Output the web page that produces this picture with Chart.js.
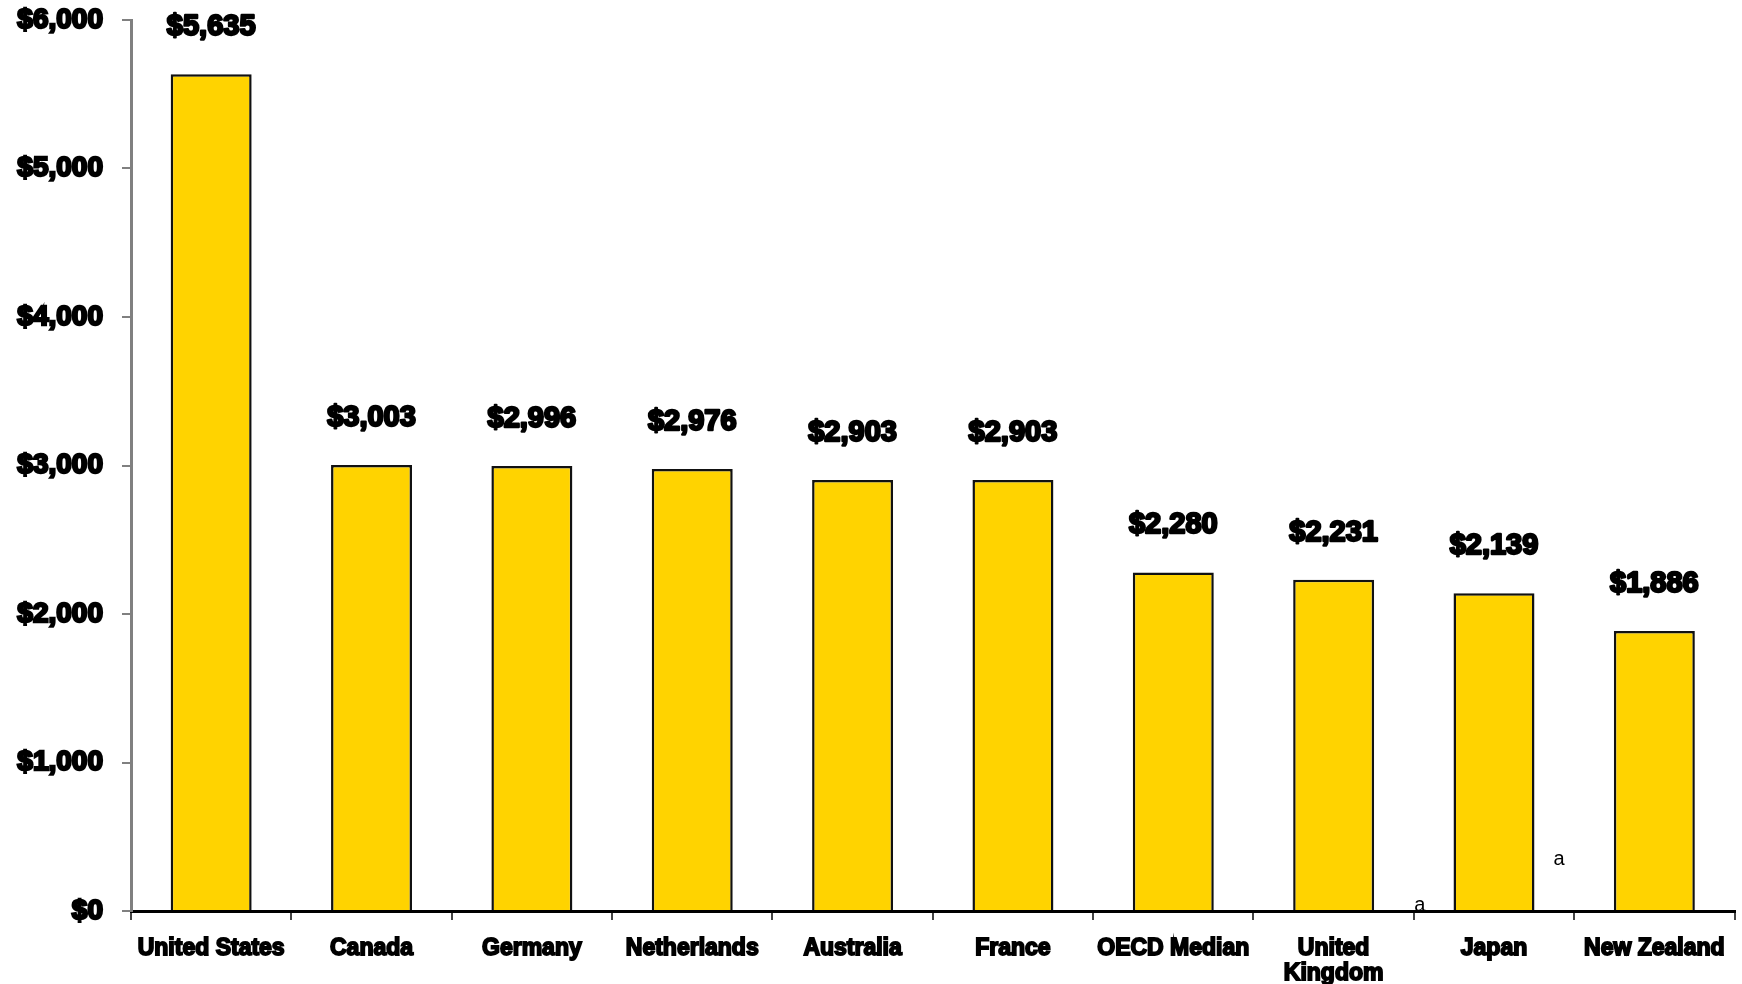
<!DOCTYPE html>
<html>
<head>
<meta charset="utf-8">
<style>
html,body{margin:0;padding:0;background:#fff;}
#wrap{width:1742px;height:984px;position:relative;}
</style>
<script src="https://cdn.jsdelivr.net/npm/chart.js@4/dist/chart.umd.min.js"></script>
</head>
<body>
<div id="wrap"><canvas id="c" width="1742" height="984"></canvas></div>
<script>
const categories = ["United States", "Canada", "Germany", "Netherlands", "Australia", "France", "OECD Median", ["United", "Kingdom"], "Japan", "New Zealand"];
const spending = [5635, 3003, 2996, 2976, 2903, 2903, 2280, 2231, 2139, 1886];
const yTicks = [0, 1000, 2000, 3000, 4000, 5000, 6000];
const footnotes = [
  {text: "a", between: 7.5, value: 0, dx: 6, dy: -6},
  {text: "a", between: 8.5, value: 350, dx: -15, dy: 0}
];

function fmt(v){ return "$" + v.toLocaleString("en-US"); }

const labelPlugin = {
  id: "valueLabels",
  afterDatasetsDraw(chart){
    const ctx = chart.ctx;
    const meta = chart.getDatasetMeta(0);
    ctx.save();
    ctx.font = "bold 29px 'Liberation Sans', Arial, sans-serif";
    ctx.textAlign = "center";
    ctx.textBaseline = "middle";
    ctx.fillStyle = "#000";
    ctx.strokeStyle = "#000";
    ctx.lineWidth = 2.4;
    ctx.lineJoin = "round";
    meta.data.forEach((bar, i) => {
      const t = fmt(spending[i]);
      ctx.strokeText(t, bar.x, bar.y - 47);
      ctx.fillText(t, bar.x, bar.y - 47);
    });
    ctx.font = "20px 'Liberation Sans', Arial, sans-serif";
    const xs = chart.scales.x, ys = chart.scales.y;
    footnotes.forEach(f => {
      const x = xs.getPixelForValue(f.between) + f.dx;
      const y = ys.getPixelForValue(f.value) + f.dy;
      ctx.fillText(f.text, x, y);
    });
    ctx.restore();
  }
};

new Chart(document.getElementById("c"), {
  type: "bar",
  data: {
    labels: categories,
    datasets: [{
      data: spending,
      backgroundColor: "#FFD300",
      borderColor: "#111",
      borderWidth: 2.5,
      borderSkipped: "bottom",
      barPercentage: 0.505,
      categoryPercentage: 1.0
    }]
  },
  options: {
    responsive: false,
    animation: false,
    devicePixelRatio: 1,
    layout: { padding: { top: 20, right: 7, left: 0, bottom: 0 } },
    plugins: { legend: { display: false }, tooltip: { enabled: false } },
    scales: {
      x: {
        offset: true,
        border: { display: true, color: "#000", width: 3 },
        grid: { display: true, drawOnChartArea: false, drawTicks: true, tickLength: 9, color: "#444", lineWidth: 2, offset: true },
        ticks: {
          color: "#000",
          font: { family: "'Liberation Sans', Arial, sans-serif", size: 23, weight: "bold", lineHeight: 1.05 },
          textStrokeColor: "#000",
          textStrokeWidth: 1.8,
          padding: 17,
          maxRotation: 0,
          autoSkip: false
        },
        afterFit(scale){ scale.height = 73; }
      },
      y: {
        min: 0,
        max: 6000,
        border: { display: true, color: "#808080", width: 3 },
        grid: { display: true, drawOnChartArea: false, drawTicks: true, tickLength: 9, color: "#808080", lineWidth: 2 },
        afterBuildTicks(scale){ scale.ticks = yTicks.map(v => ({ value: v })); },
        ticks: {
          color: "#000",
          font: { family: "'Liberation Sans', Arial, sans-serif", size: 28, weight: "bold" },
          textStrokeColor: "#000",
          textStrokeWidth: 2.4,
          padding: 19,
          callback: v => fmt(v)
        },
        afterFit(scale){ scale.width = 131; scale.paddingTop = 0; scale.paddingBottom = 0; }
      }
    }
  },
  plugins: [labelPlugin]
});
</script>
</body>
</html>
